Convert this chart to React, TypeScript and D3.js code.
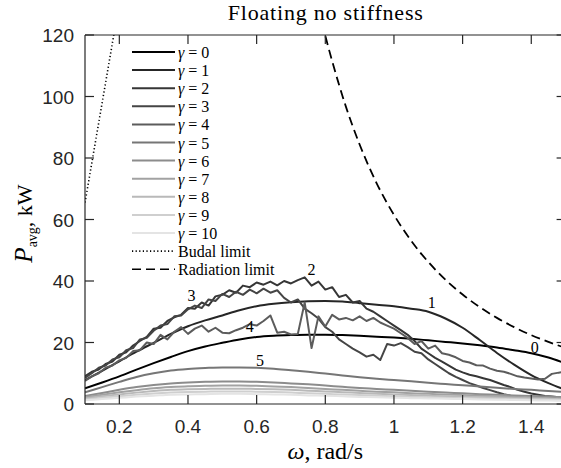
import React from "react";
import * as d3 from "d3";

// ---------- data ----------
const omegaCoarse = [0.10,0.15,0.20,0.25,0.30,0.35,0.40,0.45,0.50,0.55,0.60,0.65,0.70,0.75,0.80,0.85,0.90,0.95,1.00,1.05,1.10,1.15,1.20,1.25,1.30,1.35,1.40,1.45,1.50];
const omegaFine = [0.10,0.12,0.14,0.16,0.18,0.20,0.22,0.24,0.26,0.28,0.30,0.32,0.34,0.36,0.38,0.40,0.42,0.44,0.46,0.48,0.50,0.52,0.54,0.56,0.58,0.60,0.62,0.64,0.66,0.68,0.70,0.72,0.74,0.76,0.78,0.80,0.82,0.84,0.86,0.88,0.90,0.92,0.94,0.96,0.98,1.00,1.02,1.04,1.06,1.08,1.10,1.12,1.14,1.16,1.18,1.20,1.22,1.24,1.26,1.28,1.30,1.32,1.34,1.36,1.38,1.40,1.42,1.44,1.46,1.48,1.50];

const gamma0 = [5.1,7.0,9.0,11.2,13.3,15.3,17.2,18.7,19.9,21.0,21.8,22.2,22.4,22.5,22.5,22.4,22.2,21.9,21.6,21.2,20.7,20.2,19.7,19.1,18.4,17.5,16.5,15.1,13.2];
const gamma1 = [7.8,10.8,13.9,17.0,19.9,22.8,25.3,27.2,28.8,30.5,31.8,32.6,33.1,33.4,33.5,33.3,32.8,32.3,31.8,31.0,30.0,27.8,24.8,20.8,16.6,12.8,9.4,6.8,4.6];
const gamma2 = [9.0,10.5,11.2,13.0,13.8,16.0,16.8,19.0,20.5,21.8,24.5,24.8,27.0,28.2,29.0,31.2,31.0,33.0,32.0,35.0,35.5,37.0,36.2,38.5,38.0,39.5,38.8,39.8,38.6,40.0,39.2,40.3,41.2,38.5,39.8,37.2,38.0,34.8,35.5,33.0,33.5,31.0,30.0,28.5,27.0,25.5,24.0,22.5,20.5,18.0,16.5,15.0,13.8,12.5,11.2,10.3,9.5,9.0,8.4,7.8,7.0,6.2,5.5,4.6,4.0,3.4,3.0,2.6,2.4,2.2,2.1];
const gamma3 = [8.5,10.0,11.8,12.5,14.5,15.2,17.5,18.2,21.0,21.5,23.8,25.5,26.0,28.5,28.8,30.8,32.0,31.2,34.0,33.5,35.8,34.8,36.5,35.5,37.2,36.0,37.5,36.2,37.0,34.5,33.0,34.0,31.0,29.5,27.8,25.0,23.5,21.0,19.5,18.0,16.8,15.4,16.0,14.3,19.5,19.0,19.8,18.5,17.0,16.5,14.5,13.0,11.5,10.0,8.8,7.8,6.8,6.0,5.2,4.5,3.8,3.2,2.7,2.3,2.0,1.8,1.6,1.5,1.4,1.4,1.3];
const gamma4 = [7.5,9.0,10.0,11.8,12.5,14.2,15.0,17.2,17.5,20.0,19.5,22.5,21.0,23.5,25.0,22.8,24.5,25.5,23.5,24.8,23.2,23.0,24.0,24.8,26.0,25.5,27.0,28.8,23.2,23.5,22.6,22.8,33.0,18.2,28.5,25.2,29.0,27.5,28.0,27.2,28.5,27.0,28.0,26.5,25.5,24.5,23.0,21.5,19.5,20.5,18.0,19.0,16.5,16.0,15.2,14.0,13.5,12.6,12.5,11.5,10.8,10.5,9.8,9.0,8.6,8.3,8.0,8.2,9.8,10.2,10.5];
const gamma5 = [3.8,5.5,7.2,8.8,10.0,10.9,11.4,11.7,11.9,11.9,11.8,11.5,11.0,10.5,9.9,9.3,8.7,8.2,7.8,7.4,6.9,6.5,6.1,5.7,5.3,4.9,4.6,4.2,3.9];
const gamma6 = [2.6,3.6,4.6,5.5,6.2,6.7,7.0,7.2,7.3,7.3,7.2,7.0,6.7,6.4,6.0,5.6,5.2,4.9,4.6,4.3,4.0,3.7,3.5,3.2,3.0,2.8,2.6,2.4,2.2];
const gamma7 = [2.2,3.0,3.8,4.5,5.1,5.5,5.8,5.9,6.0,6.0,5.9,5.7,5.5,5.2,4.9,4.6,4.3,4.0,3.8,3.5,3.3,3.1,2.9,2.7,2.5,2.3,2.1,1.9,1.8];
const gamma8 = [1.8,2.5,3.1,3.7,4.2,4.6,4.8,4.9,5.0,5.0,4.9,4.8,4.6,4.3,4.1,3.8,3.6,3.3,3.1,2.9,2.7,2.5,2.4,2.2,2.1,1.9,1.8,1.6,1.5];
const gamma9 = [1.5,2.0,2.5,3.0,3.4,3.7,3.9,4.0,4.1,4.1,4.0,3.9,3.7,3.5,3.3,3.1,2.9,2.7,2.5,2.3,2.2,2.0,1.9,1.8,1.7,1.6,1.5,1.4,1.3];
const gamma10 = [1.2,1.6,2.0,2.4,2.7,3.0,3.1,3.2,3.3,3.3,3.2,3.1,3.0,2.8,2.7,2.5,2.3,2.2,2.0,1.9,1.8,1.7,1.6,1.5,1.4,1.3,1.2,1.1,1.0];

const budalOmega = [0.10,0.12,0.14,0.16,0.18,0.20];
const budalP = [65.5,78.5,91.5,104.5,117.5,130.5];
const radOmega = [0.79,0.82,0.86,0.90,0.95,1.00,1.05,1.10,1.15,1.20,1.25,1.30,1.35,1.40,1.45,1.50];
const radP = [124,111.5,96.7,84.4,71.7,61.5,53.1,46.2,40.4,35.6,31.5,28.0,25.0,22.4,20.2,18.2];

const gammas = [0,1,2,3,4,5,6,7,8,9,10];
const xTicks = [0.2,0.4,0.6,0.8,1.0,1.2,1.4];
const yTicks = [0,20,40,60,80,100,120];

const curveLabels = ["0","1","2","3","4","5"];
const curveLabelOmega = [1.41,1.11,0.76,0.41,0.58,0.61];
const curveLabelP = [18.4,33.0,43.6,35.4,25.1,14.3];

// ---------- styles ----------
const grays = ["#000000","#262626","#363636","#454545","#5c5c5c","#767676","#8c8c8c","#a2a2a2","#b9b9b9","#cfcfcf","#e4e4e4"];
const W = 561, H = 468;
const serif = "'Liberation Serif', 'Times New Roman', serif";
const sans = "'Liberation Sans', Arial, Helvetica, sans-serif";
const axisColor = "#262626";

export default function App() {
  const x = d3.scaleLinear().domain([0.1, 1.5]).range([85, 565.6]);
  const y = d3.scaleLinear().domain([0, 120]).range([404, 35]);
  const [x0, x1] = x.range();
  const [yB, yT] = y.range();

  const series = [
    { om: omegaCoarse, p: gamma0, smooth: true },
    { om: omegaCoarse, p: gamma1, smooth: true },
    { om: omegaFine, p: gamma2, smooth: false },
    { om: omegaFine, p: gamma3, smooth: false },
    { om: omegaFine, p: gamma4, smooth: false },
    { om: omegaCoarse, p: gamma5, smooth: true },
    { om: omegaCoarse, p: gamma6, smooth: true },
    { om: omegaCoarse, p: gamma7, smooth: true },
    { om: omegaCoarse, p: gamma8, smooth: true },
    { om: omegaCoarse, p: gamma9, smooth: true },
    { om: omegaCoarse, p: gamma10, smooth: true },
  ];

  const mkLine = (om: number[], p: number[], smooth: boolean) =>
    d3.line<number>()
      .x((_, i) => x(om[i]))
      .y((d) => y(d))
      .curve(smooth ? d3.curveMonotoneX : d3.curveLinear)(p) as string;

  const tickLen = 9;
  const legX0 = 132, legX1 = 175, legTextX = 178, legY0 = 52, legDy = 18.1;
  const legendItems = [
    ...gammas.map((g, i) => ({ label: String(g), kind: "g", color: grays[i] })),
    { label: "Budal limit", kind: "budal", color: "#000" },
    { label: "Radiation limit", kind: "rad", color: "#000" },
  ];

  return (
    <svg width={W} height={H} style={{ position: "absolute", left: 0, top: 0, background: "#fff" }}>
      <defs>
        <clipPath id="plotclip">
          <rect x={x0} y={yT} width={x1 - x0} height={yB - yT} />
        </clipPath>
      </defs>
      <rect width={W} height={H} fill="#fff" />

      {/* title */}
      <text x={(x0 + x1) / 2} y={20} textAnchor="middle" fontFamily={serif} fontSize={22} fill="#000" textLength={195} lengthAdjust="spacing">
        Floating no stiffness
      </text>

      {/* curves */}
      <g clipPath="url(#plotclip)">
        {series.map((s, i) => (
          <path key={i} d={mkLine(s.om, s.p, s.smooth)} fill="none" stroke={grays[i]} strokeWidth={2} strokeLinejoin="round" />
        ))}
        <path d={mkLine(budalOmega, budalP, false)} fill="none" stroke="#000" strokeWidth={1.6} strokeDasharray="1.2,2.4" />
        <path d={mkLine(radOmega, radP, true)} fill="none" stroke="#000" strokeWidth={1.8} strokeDasharray="9,5" />
      </g>

      {/* curve labels */}
      {curveLabels.map((t, i) => (
        <text key={t} x={x(curveLabelOmega[i])} y={y(curveLabelP[i])} textAnchor="middle" dominantBaseline="central" fontFamily={serif} fontSize={16} fill="#000">{t}</text>
      ))}

      {/* axes box */}
      <line x1={x0} x2={x0} y1={yT} y2={yB} stroke={axisColor} strokeWidth={1.2} />
      <line x1={x0} x2={x1} y1={yB} y2={yB} stroke={axisColor} strokeWidth={1.2} />
      <line x1={x0} x2={x1} y1={yT} y2={yT} stroke={axisColor} strokeWidth={1.2} />
      <line x1={x1} x2={x1} y1={yT} y2={yB} stroke={axisColor} strokeWidth={1.2} />

      {xTicks.map((t) => (
        <g key={"x" + t}>
          <line x1={x(t)} x2={x(t)} y1={yB} y2={yB - tickLen} stroke={axisColor} strokeWidth={1.2} />
          <line x1={x(t)} x2={x(t)} y1={yT} y2={yT + tickLen} stroke={axisColor} strokeWidth={1.2} />
          <text x={x(t)} y={433} textAnchor="middle" fontFamily={sans} fontSize={19} fill="#262626">{d3.format("~g")(t)}</text>
        </g>
      ))}
      {yTicks.map((t) => (
        <g key={"y" + t}>
          <line x1={x0} x2={x0 + tickLen} y1={y(t)} y2={y(t)} stroke={axisColor} strokeWidth={1.2} />
          <line x1={x1} x2={x1 - tickLen} y1={y(t)} y2={y(t)} stroke={axisColor} strokeWidth={1.2} />
          <text x={74} y={y(t) + 7} textAnchor="end" fontFamily={sans} fontSize={19} fill="#262626">{t}</text>
        </g>
      ))}

      {/* axis labels */}
      <text x={(x0 + x1) / 2} y={459} textAnchor="middle" fontFamily={serif} fontSize={24} fill="#000">
        <tspan fontStyle="italic">ω</tspan>, rad/s
      </text>
      <text transform={`translate(32, ${(yT + yB) / 2 + 4}) rotate(-90)`} textAnchor="middle" fontFamily={serif} fontSize={22} fill="#000">
        <tspan fontStyle="italic" fontSize={25}>P</tspan>
        <tspan fontSize={14} dy={5}>avg</tspan>
        <tspan dy={-5}>, kW</tspan>
      </text>

      {/* legend */}
      {legendItems.map((it, i) => {
        const ly = legY0 + i * legDy;
        return (
          <g key={"leg" + i}>
            <line x1={legX0} x2={legX1} y1={ly} y2={ly} stroke={it.color} strokeWidth={it.kind === "g" ? 2 : 1.6}
              strokeDasharray={it.kind === "budal" ? "1.2,2.4" : it.kind === "rad" ? "9,5" : undefined} />
            <text x={legTextX} y={ly} dominantBaseline="central" fontFamily={serif} fontSize={16} fill="#000">
              {it.kind === "g" ? (
                <>
                  <tspan fontStyle="italic">γ</tspan>
                  <tspan dx={4}>=</tspan>
                  <tspan dx={4}>{it.label}</tspan>
                </>
              ) : (
                it.label
              )}
            </text>
          </g>
        );
      })}
    </svg>
  );
}
